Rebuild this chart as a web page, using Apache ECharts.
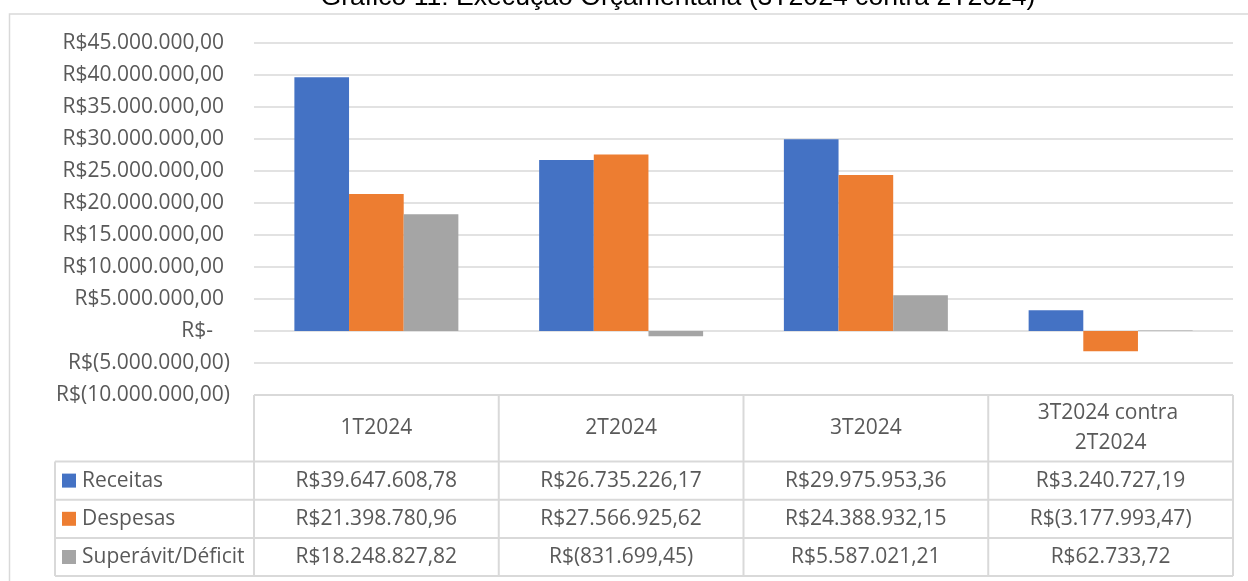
<!DOCTYPE html>
<html>
<head>
<meta charset="utf-8">
<style>
  html, body { margin: 0; padding: 0; background: #fff; }
  #main { width: 1248px; height: 581px; }
</style>
<script src="https://cdn.jsdelivr.net/npm/echarts@6/dist/echarts.min.js"></script>
</head>
<body>
<div id="main"></div>
<script>
// dados do gráfico
const titulo = 'Gráfico 11: Execução Orçamentária (3T2024 contra 2T2024)';
const periodos = ['1T2024', '2T2024', '3T2024', '3T2024 contra 2T2024'];
const nomes = ['Receitas', 'Despesas', 'Superávit/Déficit'];
const receitas = [39647608.78, 26735226.17, 29975953.36, 3240727.19];
const despesas = [21398780.96, 27566925.62, 24388932.15, -3177993.47];
const superavit = [18248827.82, -831699.45, 5587021.21, 62733.72];
const yMin = -10000000, yMax = 45000000, yPasso = 5000000;

const cores = ['#4472C4', '#ED7D31', '#A5A5A5'];
const cinzaTexto = '#595959';
const cinzaLinha = '#d9d9d9';
const fonte = '"Open Sans", "Noto Sans", sans-serif';
const tam = 21;

// formata em reais (estilo contábil do Excel)
function moeda(v, dec) {
  if (v === 0) return 'R$-';
  let s = Math.abs(v).toFixed(dec);
  let partes = s.split('.');
  let inteiro = partes[0].replace(/\B(?=(\d{3})+(?!\d))/g, '.');
  s = inteiro + (partes[1] ? ',' + partes[1] : '');
  return v < 0 ? 'R$(' + s + ')' : 'R$' + s;
}

const chart = echarts.init(document.getElementById('main'));
const series = [receitas, despesas, superavit];

const rotulo = { fontSize: tam, fontFamily: fonte, color: cinzaTexto };

let option = {
  animation: false,
  grid: { left: 254, right: 15, top: 43, bottom: 186, containLabel: false, outerBoundsMode: 'none' },
  xAxis: {
    type: 'category',
    data: periodos,
    axisLabel: { show: false },
    axisTick: { show: false },
    axisLine: { show: false }
  },
  yAxis: {
    type: 'value',
    min: yMin,
    max: yMax,
    interval: yPasso,
    axisLine: { show: false },
    axisTick: { show: false },
    splitLine: { lineStyle: { color: cinzaLinha, width: 1.5 } },
    axisLabel: {
      margin: 24,
      fontSize: tam,
      fontFamily: fonte,
      color: cinzaTexto,
      formatter: function (v) {
        if (v === 0) return '{z|R$-}';
        if (v < 0) return '{n|' + moeda(v, 2) + '}';
        return '{p|' + moeda(v, 2) + '}';
      },
      rich: {
        p: Object.assign({ padding: [0, 6, 0, 0] }, rotulo),
        z: Object.assign({ padding: [0, 17, 0, 0] }, rotulo),
        n: Object.assign({}, rotulo)
      }
    }
  },
  series: series.map(function (d, i) {
    return {
      name: nomes[i],
      type: 'bar',
      data: d,
      barGap: '0%',
      barCategoryGap: '33%',
      itemStyle: { color: cores[i] }
    };
  })
};
chart.setOption(option);

// tabela de dados abaixo do gráfico, alinhada às categorias do eixo
const cx = periodos.map(function (p) { return chart.convertToPixel({ xAxisIndex: 0 }, p); });
const banda = cx[1] - cx[0];
const esq = cx[0] - banda / 2;
const dir = cx[cx.length - 1] + banda / 2;
const topo = chart.convertToPixel({ yAxisIndex: 0 }, yMin);
const altCab = 66.5;
const altLinha = 38.2;
const colLeg = 55;

let els = [];
function linha(x1, y1, x2, y2) {
  els.push({ type: 'line', silent: true, shape: { x1: x1, y1: y1, x2: x2, y2: y2 },
    style: { stroke: cinzaLinha, lineWidth: 2 } });
}
function texto(t, x, y, extra) {
  els.push({ type: 'text', silent: true,
    style: Object.assign({ text: t, x: x, y: y, align: 'center', verticalAlign: 'middle',
      fontSize: tam, fontFamily: fonte, fill: cinzaTexto }, extra || {}) });
}

// moldura externa
els.push({ type: 'rect', silent: true, shape: { x: 9.5, y: 14, width: 1260, height: 600 },
  style: { fill: null, stroke: cinzaLinha, lineWidth: 1.5 } });

// título (cortado no topo, como na imagem)
els.push({ type: 'text', silent: true,
  style: { text: titulo, x: 678, y: -2.3, align: 'center', verticalAlign: 'middle',
    fontSize: 26.6, fontFamily: '"Liberation Sans", Arial, sans-serif', fill: '#000' } });

const fundo = topo + altCab + altLinha * nomes.length;
linha(esq, topo, dir, topo);
for (let k = 0; k <= periodos.length; k++) {
  const x = esq + banda * k;
  linha(x, topo, x, fundo);
}
for (let r = 0; r <= nomes.length; r++) {
  const y = topo + altCab + altLinha * r;
  linha(colLeg, y, dir, y);
}
linha(colLeg, topo + altCab, colLeg, fundo);

// cabeçalho
periodos.forEach(function (p, k) {
  texto(p, cx[k], topo + altCab / 2, { width: 200, overflow: 'break', lineHeight: 30 });
});

// linhas de valores
series.forEach(function (d, r) {
  const yc = topo + altCab + altLinha * r + altLinha / 2;
  els.push({ type: 'rect', silent: true, shape: { x: 62, y: yc - 7, width: 14, height: 14 },
    style: { fill: cores[r] } });
  texto(nomes[r], 82, yc, { align: 'left' });
  d.forEach(function (v, k) {
    texto(moeda(v, 2), cx[k], yc);
  });
});

chart.setOption({ graphic: { elements: els } });
</script>
</body>
</html>
